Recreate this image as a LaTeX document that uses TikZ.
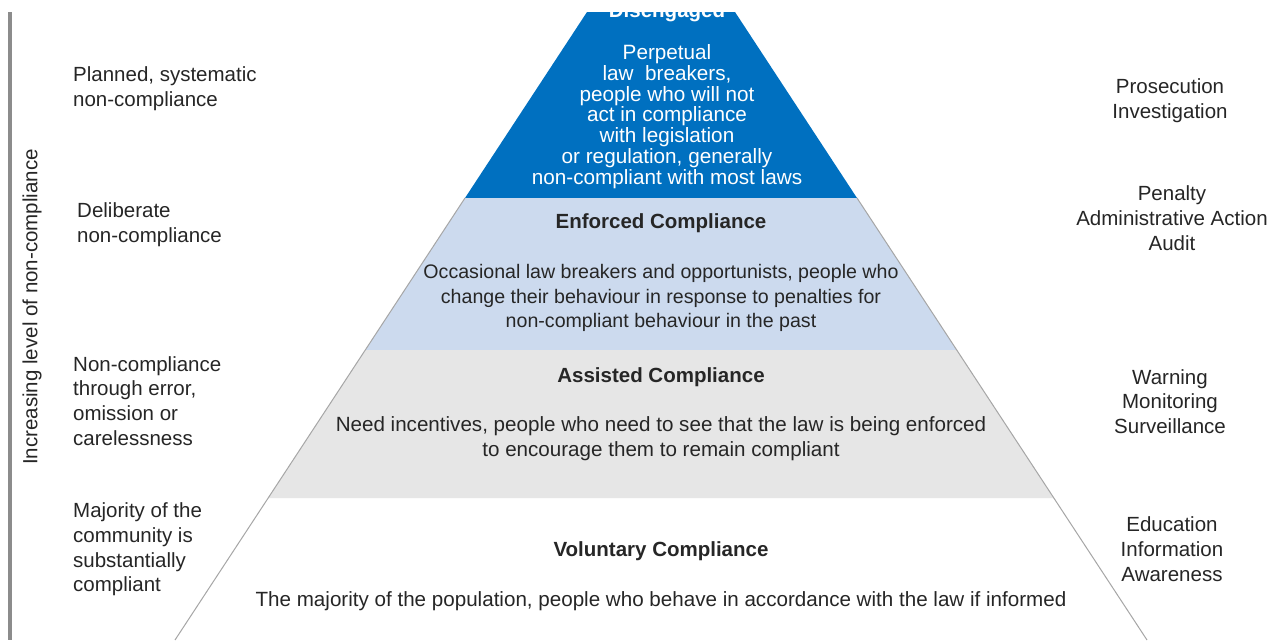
\documentclass[tikz,border=0pt]{standalone}
\usepackage{fontspec}
\setmainfont{Liberation Sans}
\definecolor{bandblue}{HTML}{0070C0}
\definecolor{bandlight}{HTML}{CCDAEE}
\definecolor{bandgray}{HTML}{E6E6E6}
\definecolor{edgegray}{HTML}{A6A6A6}
\definecolor{bargray}{HTML}{8C8C8C}
\definecolor{txt}{HTML}{262626}
\begin{document}
\begin{tikzpicture}[x=1pt,y=-1pt,
  lab/.style={font=\fontsize{20.5}{24.7}\selectfont, text=txt, inner sep=0pt, align=left},
  act/.style={lab, align=center},
  head/.style={font=\fontsize{20.5}{24}\selectfont\bfseries, text=txt, inner sep=0pt},
  body/.style={font=\fontsize{20.6}{24.5}\selectfont, text=txt, inner sep=0pt, align=center},
  topbody/.style={font=\fontsize{20.7}{20.8}\selectfont, text=white, inner sep=0pt, align=center}]
\useasboundingbox (0,0) rectangle (1279,640);
\fill[white] (0,0) rectangle (1279,640);
% bands
\fill[bandblue] (587,12) -- (735,12) -- (857,198) -- (465,198) -- cycle;
\fill[bandlight] (465,198) -- (857,198) -- (956.7,350) -- (365.3,350) -- cycle;
\fill[bandgray] (365.3,350) -- (956.7,350) -- (1053.8,498) -- (268.2,498) -- cycle;
\draw[edgegray, line width=1pt] (465,198) -- (175,640);
\draw[edgegray, line width=1pt] (857,198) -- (1147,640);
% left axis bar
\draw[bargray, line width=4.5pt] (10,12) -- (10,640);
\node[lab, rotate=90] (axis) at (32,307) {Increasing level of non-compliance};
% left labels
\node[lab, anchor=west] (l1) at (73,88.5) {Planned, systematic\\non-compliance};
\node[lab, anchor=west] (l2) at (77,224.5) {Deliberate\\non-compliance};
\node[lab, anchor=west] (l3) at (73,401) {Non-compliance\\through error,\\omission or\\carelessness};
\node[lab, anchor=west] (l4) at (73,549.5) {Majority of the\\community is\\substantially\\compliant};
% right labels
\node[act] (r1) at (1170,100.5) {Prosecution\\Investigation};
\node[act] (r2) at (1172,218) {Penalty\\Administrative Action\\Audit};
\node[act] (r3) at (1170,401.5) {Warning\\Monitoring\\Surveillance};
\node[act] (r4) at (1172,549) {Education\\Information\\Awareness};
% pyramid texts
\node[head, text=white, anchor=base] (h1) at (667,17) {Disengaged};
\node[topbody] (b1) at (667,116.5) {Perpetual\\law\ \ breakers,\\people who will not\\act in compliance\\with legislation\\or regulation, generally\\non-compliant with most laws};
\node[head] (h2) at (661,223) {Enforced Compliance};
\node[body, font=\fontsize{19.6}{24.5}\selectfont] (b2) at (661,298) {Occasional law breakers and opportunists, people who\\change their behaviour in response to penalties for\\non-compliant behaviour in the past};
\node[head] (h3) at (661,377) {Assisted Compliance};
\node[body] (b3) at (661,438.5) {Need incentives, people who need to see that the law is being enforced\\to encourage them to remain compliant};
\node[head] (h4) at (661,551) {Voluntary Compliance};
\node[body] (b4) at (661,601) {The majority of the population, people who behave in accordance with the law if informed};
\end{tikzpicture}
\end{document}
